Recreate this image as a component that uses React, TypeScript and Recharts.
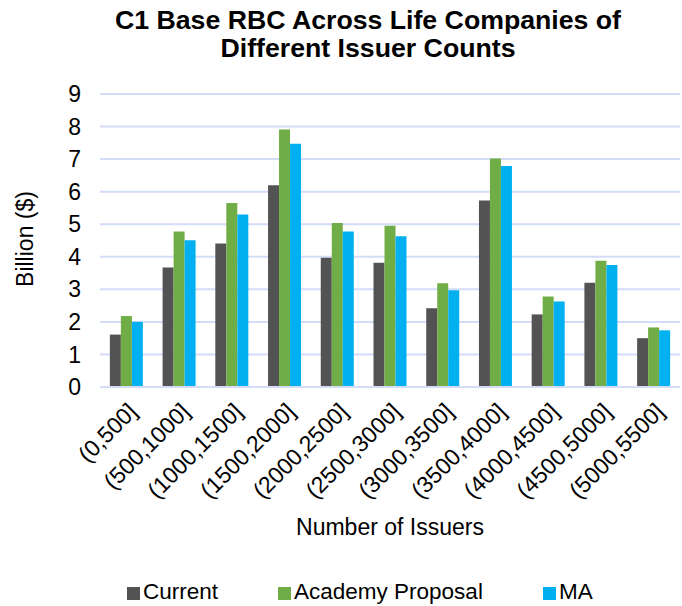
import React from 'react';
import { BarChart, Bar, XAxis, YAxis, CartesianGrid } from 'recharts';

const categories = [
  '(0,500]', '(500,1000]', '(1000,1500]', '(1500,2000]', '(2000,2500]', '(2500,3000]',
  '(3000,3500]', '(3500,4000]', '(4000,4500]', '(4500,5000]', '(5000,5500]',
];
const current = [1.61, 3.67, 4.41, 6.2, 3.97, 3.82, 2.42, 5.73, 2.23, 3.2, 1.5];
const academyProposal = [2.18, 4.78, 5.65, 7.91, 5.04, 4.95, 3.19, 7.02, 2.78, 3.88, 1.83];
const ma = [2.0, 4.51, 5.3, 7.47, 4.78, 4.63, 2.97, 6.79, 2.63, 3.75, 1.74];
const yTicks = [0, 1, 2, 3, 4, 5, 6, 7, 8, 9];

const titleLines = ['C1 Base RBC Across Life Companies of', 'Different Issuer Counts'];
const xTitle = 'Number of Issuers';
const yTitle = 'Billion ($)';

const series = [
  { key: 'current', name: 'Current', color: '#535353', values: current },
  { key: 'academy', name: 'Academy Proposal', color: '#70AD47', values: academyProposal },
  { key: 'ma', name: 'MA', color: '#00B0F0', values: ma },
];

const data = categories.map((c, i) => {
  const row: Record<string, string | number> = { category: c };
  series.forEach((s) => {
    row[s.key] = s.values[i];
  });
  return row;
});

const FONT = '"Liberation Sans", Arial, sans-serif';

const XTick = (props: any) => {
  const { x, y, payload } = props;
  const ax = x + 12;
  const ay = y + 26;
  return (
    <text
      x={ax}
      y={ay}
      textAnchor="end"
      transform={`rotate(-45, ${ax}, ${ay})`}
      fontSize={23}
      fontFamily={FONT}
      fill="#000"
    >
      {payload.value}
    </text>
  );
};

// legend entry widths depend on the label text, so entries are laid out in a flex row
const Legend = () => (
  <div
    style={{
      position: 'absolute',
      left: 127,
      top: 580,
      height: 24,
      display: 'flex',
      alignItems: 'center',
      gap: 60,
      fontSize: 22.5,
      lineHeight: '24px',
      fontFamily: FONT,
      color: '#000',
    }}
  >
    {series.map((s) => (
      <div key={s.key} style={{ display: 'flex', alignItems: 'center' }}>
        <span style={{ width: 13, height: 13, background: s.color, display: 'inline-block', marginRight: 3, marginTop: 2 }} />
        <span>{s.name}</span>
      </div>
    ))}
  </div>
);

export default function App() {
  return (
    <div style={{ position: 'absolute', left: 0, top: 0, width: 682, height: 606, background: '#fff' }}>
      <BarChart
        width={682}
        height={606}
        data={data}
        margin={{ top: 94, right: 2, left: 0, bottom: 99 }}
        barCategoryGap="18.7%"
        barGap={0}
      >
        <CartesianGrid vertical={false} stroke="#D3DCF8" strokeWidth={2} />
        <XAxis
          dataKey="category"
          height={120}
          interval={0}
          tickLine={false}
          axisLine={{ stroke: '#D3DCF8', strokeWidth: 2 }}
          tickSize={0}
          tickMargin={0}
          tick={<XTick />}
        />
        <YAxis
          width={100}
          domain={[0, 9]}
          ticks={yTicks}
          interval={0}
          axisLine={false}
          tickLine={false}
          tickSize={0}
          tickMargin={19}
          tick={{ fontSize: 23, fill: '#000', fontFamily: FONT }}
        />
        {series.map((s) => (
          <Bar key={s.key} dataKey={s.key} name={s.name} fill={s.color} isAnimationActive={false} />
        ))}
      </BarChart>
      <svg
        width={682}
        height={606}
        style={{ position: 'absolute', left: 0, top: 0, pointerEvents: 'none' }}
        fontFamily={FONT}
      >
        <text x={368} y={29} textAnchor="middle" fontSize={25} fontWeight="bold" fill="#000" textLength={506} lengthAdjust="spacingAndGlyphs">
          {titleLines[0]}
        </text>
        <text x={368} y={57} textAnchor="middle" fontSize={25} fontWeight="bold" fill="#000" textLength={295} lengthAdjust="spacingAndGlyphs">
          {titleLines[1]}
        </text>
        <text x={390} y={535} textAnchor="middle" fontSize={23} fill="#000">
          {xTitle}
        </text>
        <text
          x={33}
          y={239}
          textAnchor="middle"
          fontSize={23}
          fill="#000"
          transform="rotate(-90, 33, 239)"
        >
          {yTitle}
        </text>
      </svg>
      <Legend />
    </div>
  );
}
